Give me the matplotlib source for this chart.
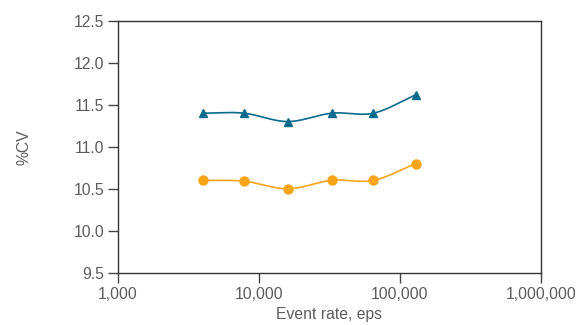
import numpy as np
import matplotlib.pyplot as plt
from matplotlib.ticker import FuncFormatter

plt.rcParams["font.family"] = ["Liberation Sans", "DejaVu Sans"]

event_rate = [4000, 7800, 16000, 33000, 65000, 130000]
cv_teal = [11.4, 11.4, 11.3, 11.4, 11.4, 11.62]
cv_orange = [10.6, 10.59, 10.5, 10.6, 10.6, 10.8]

teal = "#0a6b8c"
orange = "#f8a51c"
grey = "#5c5c5c"


def smooth(x, y, n=30):
    # Catmull-Rom curve through the points, computed in log10(x)
    lx = np.log10(x)
    y = np.asarray(y, dtype=float)
    px = np.concatenate([[2 * lx[0] - lx[1]], lx, [2 * lx[-1] - lx[-2]]])
    py = np.concatenate([[2 * y[0] - y[1]], y, [2 * y[-1] - y[-2]]])
    xs, ys = [], []
    t = np.linspace(0, 1, n)
    for i in range(1, len(px) - 2):
        for p, out in ((px, xs), (py, ys)):
            p0, p1, p2, p3 = p[i - 1], p[i], p[i + 1], p[i + 2]
            out.append(0.5 * ((2 * p1) + (-p0 + p2) * t
                              + (2 * p0 - 5 * p1 + 4 * p2 - p3) * t ** 2
                              + (-p0 + 3 * p1 - 3 * p2 + p3) * t ** 3))
    return 10 ** np.concatenate(xs), np.concatenate(ys)


fig = plt.figure(figsize=(5.79, 3.25), dpi=100)
ax = fig.add_axes([0.2038, 0.161, 0.7302, 0.775])

for vals, col, mk, ms in ((cv_teal, teal, "^", 6), (cv_orange, orange, "o", 6.5)):
    sx, sy = smooth(event_rate, vals)
    ax.plot(sx, sy, color=col, lw=1.2)
    ax.plot(event_rate, vals, ls="none", marker=mk, color=col, ms=ms)

ax.set_xscale("log")
ax.set_xlim(1000, 1000000)
ax.set_ylim(9.5, 12.5)
ax.set_xticks([1000, 10000, 100000, 1000000])
ax.xaxis.set_major_formatter(FuncFormatter(lambda v, p: f"{v:,.0f}"))
ax.xaxis.set_minor_locator(plt.NullLocator())
ax.set_yticks(np.arange(9.5, 12.51, 0.5))
ax.yaxis.set_major_formatter(FuncFormatter(lambda v, p: f"{v:.1f}"))

for s in ax.spines.values():
    s.set_color("#333333")
    s.set_linewidth(1.0)
ax.tick_params(direction="out", length=7, width=1, color="#444444",
               labelcolor=grey, labelsize=11.3, pad=3)

ax.set_xlabel("Event rate, eps", color=grey, fontsize=11.3, labelpad=4)
ax.set_ylabel("%CV", color=grey, fontsize=11.3, labelpad=30)

fig.savefig("out.png", dpi=100)
